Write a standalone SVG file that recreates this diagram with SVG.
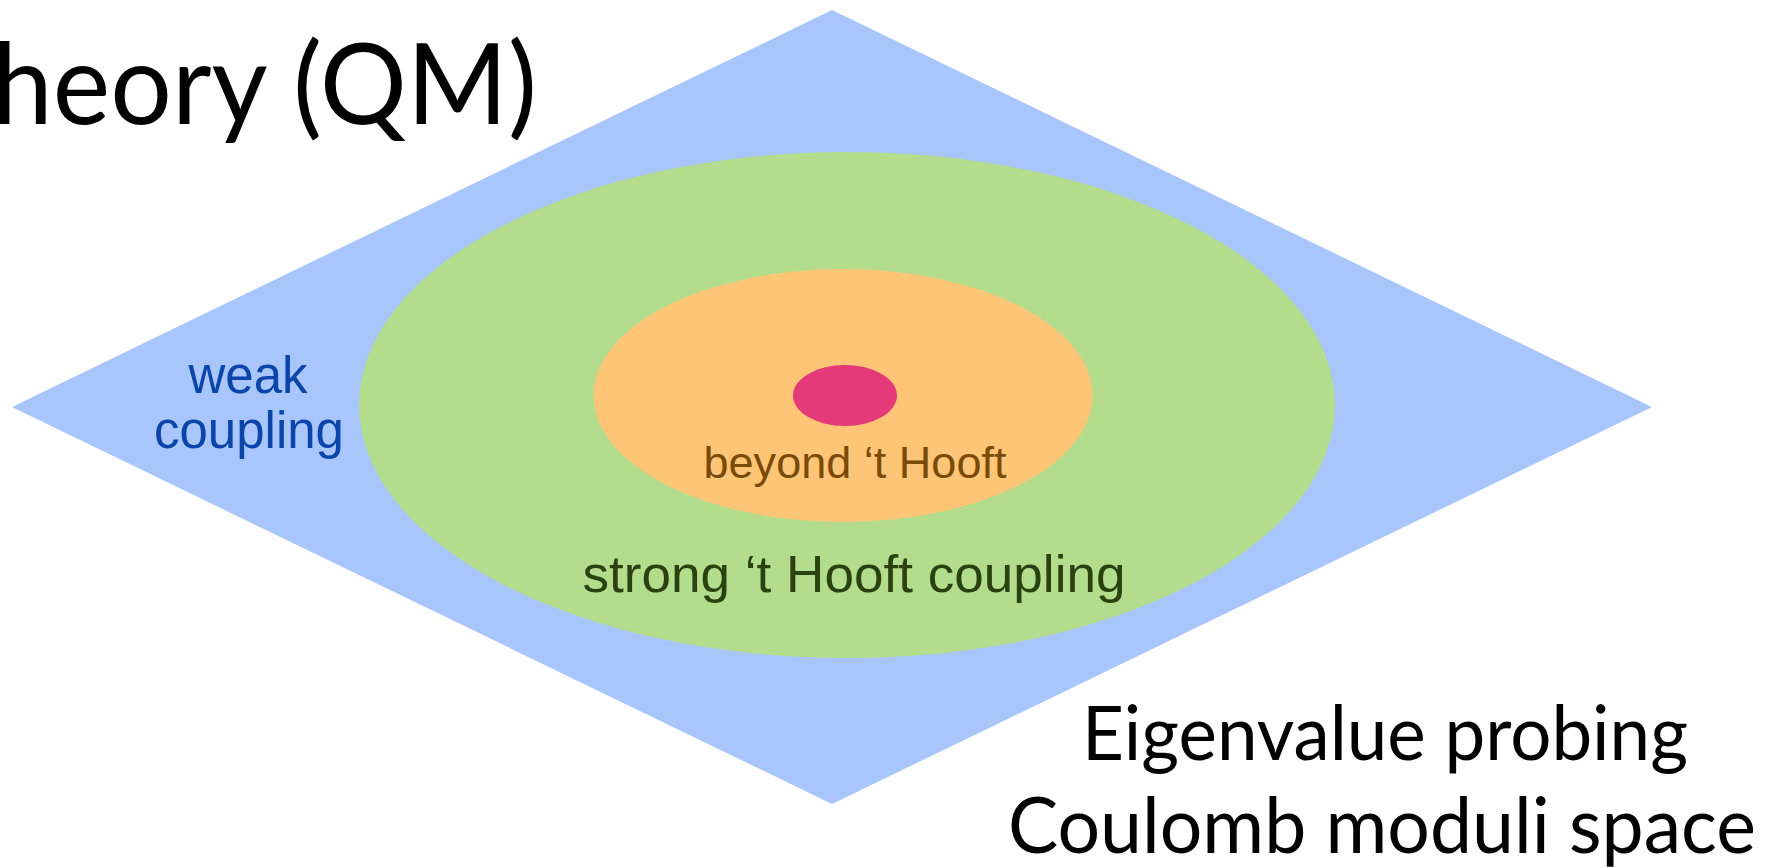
<svg xmlns="http://www.w3.org/2000/svg" width="1769" height="868" viewBox="0 0 1769 868">
  <style>
    .title { font-family: Lato, "Open Sans", "Liberation Sans", sans-serif; fill: #000000; }
    .label { font-family: "Liberation Sans", Arial, sans-serif; text-anchor: middle; }
  </style>
  <rect x="0" y="0" width="1769" height="868" fill="#ffffff"/>

  <!-- parameter space -->
  <g id="moduli-space">
    <polygon points="832,10 1652,407 832,804 12,407" fill="#a8c6fb"/>
    <text class="label" x="248" y="393" font-size="51" fill="#0b45aa">weak</text>
    <text class="label" x="249" y="448" font-size="51" fill="#0b45aa">coupling</text>
  </g>

  <!-- strong coupling region -->
  <g id="strong-coupling">
    <ellipse cx="847" cy="405" rx="488" ry="253" fill="#b3dd8d"/>
    <text class="label" x="854" y="592" font-size="52" fill="#2a4210" textLength="543" lengthAdjust="spacingAndGlyphs">strong ‘t Hooft coupling</text>
  </g>

  <!-- beyond 't Hooft region -->
  <g id="beyond-hooft">
    <ellipse cx="843" cy="395.5" rx="249.5" ry="126.5" fill="#fec577"/>
    <text class="label" x="855" y="478" font-size="44" fill="#7a4a06" textLength="303" lengthAdjust="spacingAndGlyphs">beyond ‘t Hooft</text>
  </g>

  <!-- core point -->
  <g id="core">
    <ellipse cx="845" cy="395.5" rx="52" ry="30.5" fill="#e43a7a"/>
  </g>

  <!-- headings -->
  <g id="heading-top">
    <text class="title" x="-8" y="124" font-size="112" textLength="545" lengthAdjust="spacingAndGlyphs">heory (QM)</text>
  </g>
  <g id="heading-bottom">
    <text class="title" x="1385" y="760" font-size="75" text-anchor="middle" textLength="606" lengthAdjust="spacingAndGlyphs">Eigenvalue probing</text>
    <text class="title" x="1382" y="853" font-size="77" text-anchor="middle" textLength="748" lengthAdjust="spacingAndGlyphs">Coulomb moduli space</text>
  </g>
</svg>
